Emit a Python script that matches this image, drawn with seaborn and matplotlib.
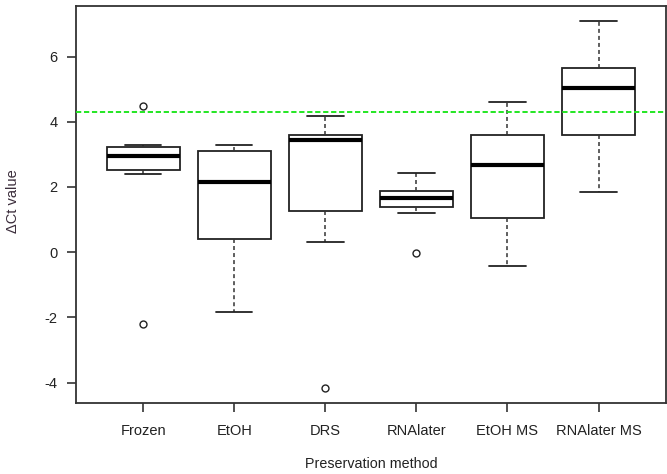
import matplotlib
matplotlib.use("Agg")
import matplotlib.pyplot as plt
import seaborn as sns
import pandas as pd

# Values (per preservation method)
methods = ["Frozen", "EtOH", "DRS", "RNAlater", "EtOH MS", "RNAlater MS"]
frozen = [-2.19, 2.40, 2.52, 2.75, 2.94, 3.05, 3.21, 3.28, 4.47]
etoh = [-1.83, 0.39, 2.15, 3.11, 3.28]
drs = [-4.18, 0.31, 1.26, 2.50, 3.44, 3.52, 3.60, 3.90, 4.18]
rnalater = [-0.04, 1.20, 1.37, 1.50, 1.65, 1.75, 1.88, 2.10, 2.42]
etoh_ms = [-0.44, 1.05, 2.66, 3.60, 4.61]
rnalater_ms = [1.83, 3.60, 5.04, 5.64, 7.09]
threshold = 4.29
yticks = [-4, -2, 0, 2, 4, 6]
x_label = "Preservation method"
y_label = "\u0394Ct value"

groups = [frozen, etoh, drs, rnalater, etoh_ms, rnalater_ms]
df = pd.DataFrame({
    "method": [m for m, g in zip(methods, groups) for _ in g],
    "value": [v for g in groups for v in g],
})

sns.set_theme(style="ticks")
plt.rcParams["font.family"] = ["Liberation Sans", "DejaVu Sans"]

fig = plt.figure(figsize=(6.67, 4.74), dpi=100)
ax = fig.add_axes([0.1135, 0.1504, 0.885, 0.8369])

line_col = "#222222"
sns.boxplot(
    data=df, x="method", y="value", order=methods, ax=ax,
    color="white", linecolor=line_col, linewidth=1.3, width=0.8,
    saturation=1, whis=1.5, fliersize=5,
    medianprops=dict(linewidth=3, color="black"),
    whiskerprops=dict(linestyle=(0, (2.6, 2.0)), linewidth=1.1, color="#333333"),
    capprops=dict(linewidth=1.3),
    flierprops=dict(marker="o", markerfacecolor="none",
                    markeredgecolor=line_col, markeredgewidth=1.0),
)

ax.axhline(threshold, color="#22e622", linestyle=(0, (2.7, 1.4)), linewidth=1.4, zorder=5)

ax.set_xlim(-0.74, 5.74)
ax.set_ylim(-4.62, 7.55)
ax.set_yticks(yticks)
ax.set_yticklabels([str(t) for t in yticks])

for s in ax.spines.values():
    s.set_visible(True)
    s.set_linewidth(1.3)
    s.set_color("#333333")

ax.tick_params(axis="both", direction="out", length=6.5, width=1.2,
               colors="#333333", labelcolor="#222222", labelsize=10.5)
ax.tick_params(axis="x", pad=9)
ax.tick_params(axis="y", pad=6.5)

ax.set_xlabel(x_label, fontsize=10.3, color="#222222")
ax.set_ylabel(y_label, fontsize=10.5, color="#3b2d3b")
ax.xaxis.set_label_coords(0.5, -0.1376)
ax.yaxis.set_label_coords(-0.0944, 0.508)

fig.savefig("out.png", dpi=100)
